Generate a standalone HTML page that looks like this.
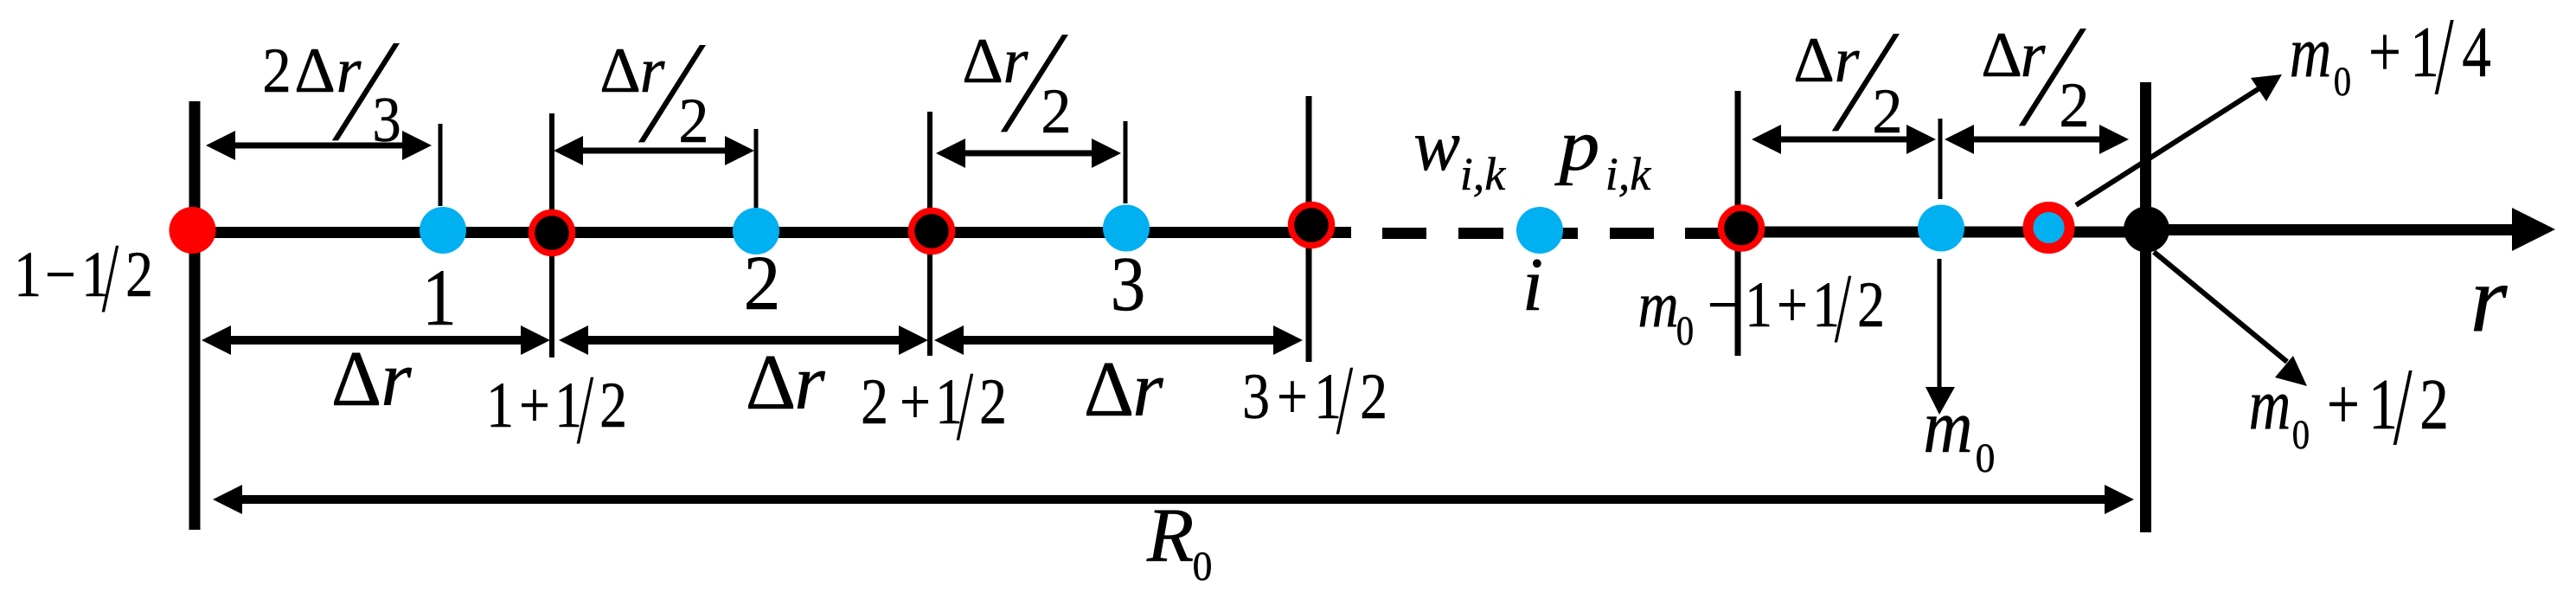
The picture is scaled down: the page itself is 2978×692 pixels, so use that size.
<!DOCTYPE html>
<html><head><meta charset="utf-8"><style>
html,body{margin:0;padding:0;background:#fff}
svg{display:block}
text{font-family:"Liberation Serif",serif;fill:#000;text-anchor:middle;stroke:#000;stroke-width:.5px}
.i{font-style:italic}
text.s{text-anchor:start;stroke:none}
</style></head><body>
<svg width="2978" height="692" viewBox="0 0 2978 692" xmlns="http://www.w3.org/2000/svg">
<rect width="2978" height="692" fill="#fff"/>
<g stroke="#000" fill="none">
<path stroke-width="13" d="M222 268.5H1562M1598 269.5H1649M1686 269.5H1738M1780 269.5H1824M1861 269.5H1912M1948 269.5H2013M2013 268H2481"/>
<path stroke-width="13" d="M2481 265.5H2906"/>
<path stroke-width="13" d="M225 117V612M2480.5 95V615"/>
<path stroke-width="6" d="M638 131V413M1075 129V411"/>
<path stroke-width="7" d="M1513 111V418M2009 105V411"/>
<path stroke-width="5" d="M509 143V238M874 149V244M1301 140V235M2243 137V230M2242 299V450"/>
<path stroke-width="7" d="M272 168H465M674 174H838M1116 177H1262M2059 161H2204M2282 161H2427"/>
<path stroke-width="10" d="M267 393H602M680 393H1039M1114 393H1472M280 577H2433"/>
<path stroke-width="6" d="M2400 237L2612 102M2490 291L2644 418"/>
</g>
<g fill="#000">
<polygon points="238,168 272,151 272,185"/><polygon points="499,168 465,151 465,185"/>
<polygon points="640,174 674,157 674,191"/><polygon points="872,174 838,157 838,191"/>
<polygon points="1082,177 1116,160 1116,194"/><polygon points="1296,177 1262,160 1262,194"/>
<polygon points="2025,161 2059,144 2059,178"/><polygon points="2238,161 2204,144 2204,178"/>
<polygon points="2248,161 2282,144 2282,178"/><polygon points="2461,161 2427,144 2427,178"/>
<polygon points="233,393 267,376 267,410"/><polygon points="636,393 602,376 602,410"/>
<polygon points="646,393 680,376 680,410"/><polygon points="1073,393 1039,376 1039,410"/>
<polygon points="1080,393 1114,376 1114,410"/><polygon points="1506,393 1472,376 1472,410"/>
<polygon points="246,577 280,560 280,594"/><polygon points="2467,577 2433,560 2433,594"/>
<polygon points="2954,265 2904,240 2904,290"/>
<polygon points="2242,479 2226,447 2260,447"/>
<polygon points="2638,86 2602,90 2620,117"/>
<polygon points="2667,446 2651,411 2630,436"/>
</g>
<ellipse cx="222.5" cy="266" rx="27" ry="27" fill="#ff0000"/>
<g fill="#00b0f0">
<ellipse cx="512" cy="266" rx="27" ry="27"/>
<ellipse cx="874" cy="267" rx="27" ry="27"/>
<ellipse cx="1302" cy="263.5" rx="27" ry="27"/>
<ellipse cx="1780" cy="266" rx="27" ry="27"/>
<ellipse cx="2244" cy="263.5" rx="27" ry="27"/>
</g>
<g fill="#000" stroke="#ff0000" stroke-width="7.5">
<ellipse cx="638" cy="269" rx="23.5" ry="23.5"/>
<ellipse cx="1077" cy="267" rx="23.5" ry="23.5"/>
<ellipse cx="1516" cy="260" rx="23.5" ry="23.5"/>
<ellipse cx="2013" cy="263.5" rx="23.5" ry="23.5"/>
</g>
<ellipse cx="2368.5" cy="263" rx="24" ry="24" fill="#00b0f0" stroke="#ff0000" stroke-width="12"/>
<ellipse cx="2481.5" cy="265" rx="26.5" ry="26.5" fill="#000"/>

<g font-size="75">
<text transform="translate(32,342) scale(.85,1)">1</text>
<text transform="translate(70,342) scale(.85,1)">−</text>
<text transform="translate(110,342) scale(.85,1)">1</text>
<text transform="translate(161,342) scale(.85,1)">2</text>
<text transform="translate(578,493) scale(.85,1)">1</text>
<text transform="translate(618,493) scale(.85,1)">+</text>
<text transform="translate(657,493) scale(.85,1)">1</text>
<text transform="translate(709,493) scale(.85,1)">2</text>
<text transform="translate(1011,489) scale(.85,1)">2</text>
<text transform="translate(1058,489) scale(.85,1)">+</text>
<text transform="translate(1097,489) scale(.85,1)">1</text>
<text transform="translate(1148,489) scale(.85,1)">2</text>
<text transform="translate(1452,483) scale(.85,1)">3</text>
<text transform="translate(1494,483) scale(.85,1)">+</text>
<text transform="translate(1535,483) scale(.85,1)">1</text>
<text transform="translate(1588,483) scale(.85,1)">2</text>
<text class="i" transform="translate(1917,377) scale(.87,1)">m</text>
<text transform="translate(1992,377) scale(.85,1)">−</text>
<text transform="translate(2033,377) scale(.85,1)">1</text>
<text transform="translate(2072,377) scale(.85,1)">+</text>
<text transform="translate(2111,377) scale(.85,1)">1</text>
<text transform="translate(2163,377) scale(.85,1)">2</text>
</g>
<g font-size="84">
<text class="i" transform="translate(2671,88) scale(.8,1)">m</text>
<text transform="translate(2757,88) scale(.8,1)">+</text>
<text transform="translate(2803,88) scale(.8,1)">1</text>
<text transform="translate(2863,88) scale(.8,1)">4</text>
<text class="i" transform="translate(2624,495) scale(.8,1)">m</text>
<text transform="translate(2709,495) scale(.8,1)">+</text>
<text transform="translate(2755,495) scale(.8,1)">1</text>
<text transform="translate(2814,495) scale(.8,1)">2</text>
</g>
<g font-size="48">
<text transform="translate(1948,398) scale(.85,1)">0</text>
<text transform="translate(2708,110) scale(.85,1)">0</text>
<text transform="translate(2660,518) scale(.85,1)">0</text>
<text transform="translate(2295,545) scale(.95,1)">0</text>
<text transform="translate(1390,670) scale(.95,1)">0</text>
</g>
<text class="i" font-size="88" transform="translate(2252,522) scale(.9,1)">m</text>

<g font-size="74">
<text transform="translate(320,106) scale(.9,1)">2</text>
<text transform="translate(364,106)">Δ</text>
<text class="i" transform="translate(403,106)">r</text>
<text transform="translate(447,163) scale(.9,1)">3</text>
<text transform="translate(717,106)">Δ</text>
<text class="i" transform="translate(754,106)">r</text>
<text transform="translate(802,164) scale(.95,1)">2</text>
<text transform="translate(1136,95)">Δ</text>
<text class="i" transform="translate(1174,95)">r</text>
<text transform="translate(1221,153) scale(.95,1)">2</text>
<text transform="translate(2097,94)">Δ</text>
<text class="i" transform="translate(2135,94)">r</text>
<text transform="translate(2182,153) scale(.95,1)">2</text>
<text transform="translate(2314,88)">Δ</text>
<text class="i" transform="translate(2350,88)">r</text>
<text transform="translate(2398,146) scale(.95,1)">2</text>
</g>
<g font-size="168">
<text class="s" transform="translate(384.3,160.7) skewX(-18.2) scale(.885,1)">/</text>
<text class="s" transform="translate(738.3,162.7) skewX(-18.2) scale(.885,1)">/</text>
<text class="s" transform="translate(1157.3,150.7) skewX(-18.2) scale(.885,1)">/</text>
<text class="s" transform="translate(2118.3,149.7) skewX(-18.2) scale(.885,1)">/</text>
<text class="s" transform="translate(2334.3,143.7) skewX(-18.2) scale(.885,1)">/</text>
</g>
<g font-size="114">
<text class="s" transform="translate(117.6,359.4) scale(.62,1)">/</text>
<text class="s" transform="translate(666.6,511.4) scale(.62,1)">/</text>
<text class="s" transform="translate(1105.6,507.4) scale(.62,1)">/</text>
<text class="s" transform="translate(1544.6,500.4) scale(.62,1)">/</text>
<text class="s" transform="translate(2120.6,394.4) scale(.62,1)">/</text>
</g>
<g font-size="128">
<text class="s" transform="translate(2814.6,108) scale(.62,1)">/</text>
<text class="s" transform="translate(2766.6,513) scale(.62,1)">/</text>
</g>

<g font-size="91">
<text transform="translate(412,468)">Δ</text>
<text class="i" transform="translate(458,468)">r</text>
<text transform="translate(891,472)">Δ</text>
<text class="i" transform="translate(936,472)">r</text>
<text transform="translate(1282,480)">Δ</text>
<text class="i" transform="translate(1327,480)">r</text>
</g>

<text font-size="93" transform="translate(508,375) scale(.85,1)">1</text>
<text font-size="90" transform="translate(881,357) scale(.95,1)">2</text>
<text font-size="90" transform="translate(1304,358) scale(.9,1)">3</text>
<text class="i" font-size="88" transform="translate(1772,358)">i</text>

<text class="i" font-size="85" transform="translate(1661,196) scale(.95,1)">w</text>
<text class="i" font-size="54" transform="translate(1714,219)">i,k</text>
<text class="i" font-size="85" transform="translate(1826,196) scale(1.1,1)">p</text>
<text class="i" font-size="54" transform="translate(1882,219)">i,k</text>
<text class="i" font-size="89" transform="translate(1353,648)">R</text>
<text class="i" font-size="110" transform="translate(2877,382)">r</text>
</svg>
</body></html>
